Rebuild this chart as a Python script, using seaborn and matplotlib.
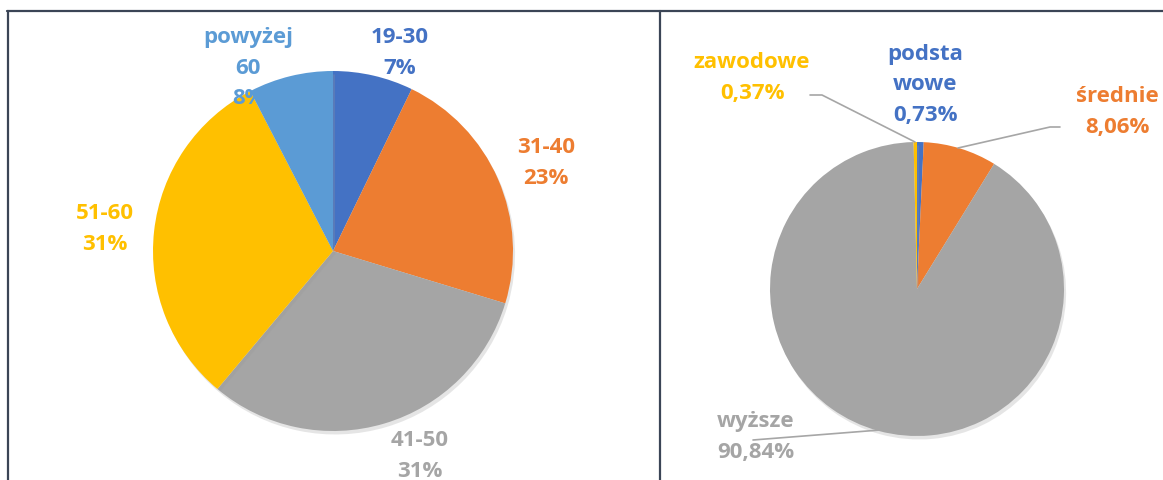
import matplotlib
matplotlib.use("Agg")
import matplotlib.pyplot as plt
import matplotlib.patheffects as pe
import seaborn as sns

# ---------- Data ----------
age_groups = ["19-30", "31-40", "41-50", "51-60", "powyżej\n60"]
age_share = [7.2, 22.5, 31.4, 31.3, 7.6]
age_labels = ["7%", "23%", "31%", "31%", "8%"]
age_colors = ["#4472C4", "#ED7D31", "#A5A5A5", "#FFC000", "#5B9BD5"]

edu_groups = ["podsta\nwowe", "średnie", "wyższe", "zawodowe"]
edu_share = [0.73, 8.06, 90.84, 0.37]
edu_labels = ["0,73%", "8,06%", "90,84%", "0,37%"]
edu_colors = ["#4472C4", "#ED7D31", "#A5A5A5", "#FFC000"]

# ---------- Style ----------
sns.set_theme(style="white")
plt.rcParams["font.family"] = ["Open Sans", "DejaVu Sans"]

W, H = 1163, 481
fig = plt.figure(figsize=(W / 100, H / 100), dpi=100)
ax = fig.add_axes([0, 0, 1, 1])

shadow = [pe.SimplePatchShadow(offset=(1.5, -2.5), shadow_rgbFace="#999999", alpha=0.25), pe.Normal()]
wp = dict(linewidth=0, edgecolor="none")

# ---------- Pie 1: age ----------
wedges, _ = ax.pie(age_share, colors=age_colors, startangle=90, counterclock=False,
                   center=(333, H - 252), radius=180, frame=True, wedgeprops=wp)
for w in wedges:
    w.set_path_effects(shadow)

# ---------- Pie 2: education ----------
wedges2, _ = ax.pie(edu_share, colors=edu_colors, startangle=90, counterclock=False,
                    center=(917, H - 290), radius=147, frame=True, wedgeprops=wp)
for w in wedges2:
    w.set_path_effects(shadow)

ax.set_xlim(0, W)
ax.set_ylim(0, H)
ax.set_aspect("equal")
ax.axis("off")

# ---------- Labels ----------
fs = 16
age_pos = [(400, 53), (546, 163), (420, 456), (105, 229), (248, 68)]
for name, lab, col, (x, y) in zip(age_groups, age_labels, age_colors, age_pos):
    ax.text(x, H - y, name + "\n" + lab, color=col, fontsize=fs, fontweight="bold",
            ha="center", va="center", linespacing=1.62)

edu_pos = [(925, 85), (1117, 112), (756, 437), (752, 78)]
for name, lab, col, (x, y) in zip(edu_groups, edu_labels, edu_colors, edu_pos):
    ax.text(x, H - y, name + "\n" + lab, color=col, fontsize=fs, fontweight="bold",
            ha="center", va="center", linespacing=1.62)

# leader lines
lc = "#A6A6A6"
ax.plot([810, 822, 915], [H - 96, H - 96, H - 143], color=lc, lw=1.2)
ax.plot([958, 1050, 1060], [H - 149, H - 128, H - 128], color=lc, lw=1.2)
ax.plot([753, 880], [H - 441, H - 431], color=lc, lw=1.2)

# ---------- Borders ----------
bc = "#3B4556"
ax.plot([7, W], [H - 12, H - 12], color=bc, lw=1.6)
ax.plot([8, 8], [H - 12, 0], color=bc, lw=1.6)
ax.plot([660, 660], [H - 12, 0], color=bc, lw=1.6)

fig.savefig("out.png", dpi=100)
